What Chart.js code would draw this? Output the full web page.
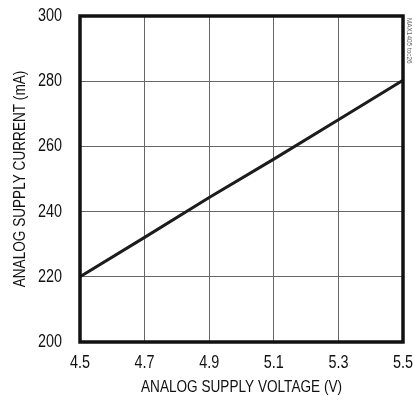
<!DOCTYPE html>
<html>
<head>
<meta charset="utf-8">
<script src="https://cdn.jsdelivr.net/npm/chart.js@4.4.0/dist/chart.umd.min.js"></script>
<style>
  html, body { margin: 0; padding: 0; background: #fff; }
  #c { display: block; }
</style>
</head>
<body>
<canvas id="c" width="414" height="402"></canvas>
<script>
// Analog supply current versus analog supply voltage
const voltages = [4.5, 4.7, 4.9, 5.1, 5.3, 5.5];
const currents = [220, 232.1, 244.3, 256.1, 268.2, 280.3];
const xTicks = [4.5, 4.7, 4.9, 5.1, 5.3, 5.5];
const yTicks = [200, 220, 240, 260, 280, 300];
const noteText = 'MAX1405 toc26';

const FONT = '"Liberation Sans", Arial, sans-serif';
const SQUEEZE = 0.8; // narrow lettering, condensed horizontally

const canvas = document.getElementById('c');
const ctx2d = canvas.getContext('2d');
// Condense every text run by handing fillText a maxWidth
const baseFillText = ctx2d.fillText;
ctx2d.fillText = function (text, x, y, maxWidth) {
  const w = this.measureText(text).width * SQUEEZE;
  return baseFillText.call(this, text, x, y, maxWidth !== undefined ? Math.min(maxWidth, w) : w);
};

// Heavy frame around the plot area plus the small rotated note on the right
const framePlugin = {
  id: 'frame',
  afterDraw(chart) {
    const { ctx, chartArea: a } = chart;
    ctx.save();
    ctx.strokeStyle = '#111';
    ctx.lineWidth = 3.5;
    ctx.strokeRect(a.left, a.top, a.right - a.left, a.bottom - a.top);
    ctx.translate(a.right + 6, a.top + 2);
    ctx.rotate(Math.PI / 2);
    ctx.fillStyle = '#666';
    ctx.font = '8px ' + FONT;
    ctx.textAlign = 'left';
    ctx.textBaseline = 'middle';
    ctx.fillText(noteText, 0, 0);
    ctx.restore();
  }
};

new Chart(canvas, {
  type: 'line',
  data: {
    datasets: [{
      data: voltages.map((v, i) => ({ x: v, y: currents[i] })),
      borderColor: '#1c1c1c',
      borderWidth: 3,
      pointRadius: 0,
      tension: 0,
      fill: false
    }]
  },
  options: {
    responsive: false,
    animation: false,
    devicePixelRatio: 1,
    layout: { padding: { left: 2, right: 11, top: 16, bottom: 0 } },
    plugins: { legend: { display: false }, tooltip: { enabled: false } },
    scales: {
      x: {
        type: 'linear',
        min: 4.5,
        max: 5.5,
        afterBuildTicks(scale) { scale.ticks = xTicks.map(v => ({ value: v })); },
        afterFit(scale) {
          scale.height = 60;
          scale.paddingLeft = 0;
          scale.paddingRight = 0;
        },
        ticks: {
          color: '#111',
          font: { family: FONT, size: 18 },
          padding: 10,
          maxRotation: 0,
          autoSkip: false,
          callback: v => v.toFixed(1)
        },
        grid: { color: '#666', lineWidth: 1, drawTicks: false },
        border: { display: false },
        title: {
          display: true,
          text: 'ANALOG SUPPLY VOLTAGE (V)',
          color: '#111',
          font: { family: FONT, size: 17 },
          padding: { top: 0, bottom: 4 }
        }
      },
      y: {
        type: 'linear',
        min: 200,
        max: 300,
        afterBuildTicks(scale) { scale.ticks = yTicks.map(v => ({ value: v })); },
        afterFit(scale) {
          scale.width = 78;
          scale.paddingTop = 0;
          scale.paddingBottom = 0;
        },
        ticks: {
          color: '#111',
          font: { family: FONT, size: 18 },
          padding: 18,
          autoSkip: false,
          callback: v => String(v)
        },
        grid: { color: '#666', lineWidth: 1, drawTicks: false },
        border: { display: false },
        title: {
          display: true,
          text: 'ANALOG SUPPLY CURRENT (mA)',
          color: '#111',
          font: { family: FONT, size: 17 },
          padding: { top: 8, bottom: 2 }
        }
      }
    }
  },
  plugins: [framePlugin]
});
</script>
</body>
</html>
